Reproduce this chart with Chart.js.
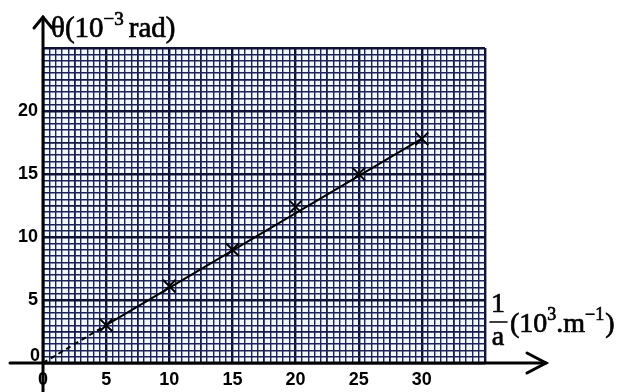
<!DOCTYPE html>
<html>
<head>
<meta charset="utf-8">
<script src="https://cdn.jsdelivr.net/npm/chart.js@4"></script>
<style>
  body { margin: 0; background: #fff; }
  #wrap { width: 618px; height: 392px; position: relative; }
</style>
</head>
<body>
<div id="wrap"><canvas id="graph"></canvas></div>
<script>
// measured points (1/a in 10^3 m^-1, theta in 10^-3 rad)
const invA = [5, 10, 15, 20, 25, 30];
const theta = [3.0, 6.1, 9.0, 12.4, 15.0, 17.8];

// straight line drawn through the points (dashed near origin)
const fitX = [0, 5, 30];
const fitY = [0, 3.0, 17.8];

const xLabels = [0, 5, 10, 15, 20, 25, 30];
const yLabels = [5, 10, 15, 20];

const GRID_MAJOR = '#0f1236';
const GRID_MID = '#161a48';
const GRID_MINOR = '#1d2358';

function gridColor(c) {
  const v = Math.round(c.tick.value * 2);
  if (v % 10 === 0) return GRID_MAJOR;
  if (v % 5 === 0) return GRID_MID;
  return GRID_MINOR;
}
function gridWidth(c) {
  const v = Math.round(c.tick.value * 2);
  if (v % 10 === 0) return 2.4;
  if (v % 5 === 0) return 1.8;
  return 1.4;
}

const SERIF = '"Liberation Serif", "Times New Roman", serif';

// text with a thin outline so it looks like the scanned print
function inkText(ctx, s, x, y) {
  ctx.fillText(s, x, y);
  ctx.strokeText(s, x, y);
}

// paper background, hand-drawn axes with arrows, axis titles
const paperPlugin = {
  id: 'paper',
  beforeDraw(chart) {
    const { ctx, chartArea: a } = chart;
    ctx.save();
    ctx.fillStyle = '#f1f9fc';
    ctx.fillRect(a.left, a.top, a.right - a.left, a.bottom - a.top);
    ctx.restore();
  },
  afterDraw(chart) {
    const { ctx, scales } = chart;
    const x0 = scales.x.getPixelForValue(0);
    const y0 = scales.y.getPixelForValue(0);
    ctx.save();
    ctx.strokeStyle = '#000';
    ctx.fillStyle = '#000';
    ctx.lineWidth = 3;
    ctx.lineCap = 'round';
    // y axis
    ctx.beginPath();
    ctx.moveTo(x0, 392);
    ctx.lineTo(x0, 17);
    ctx.stroke();
    ctx.beginPath();
    ctx.moveTo(x0 - 9, 28);
    ctx.lineTo(x0, 17);
    ctx.lineTo(x0 + 9, 28);
    ctx.stroke();
    // x axis
    ctx.beginPath();
    ctx.moveTo(10, y0);
    ctx.lineTo(546, y0);
    ctx.stroke();
    ctx.beginPath();
    ctx.moveTo(527, y0 - 10);
    ctx.lineTo(546, y0);
    ctx.lineTo(527, y0 + 10);
    ctx.stroke();

    // y "0" label sits just above the x axis
    ctx.font = 'bold 18px "Liberation Sans", Arial, sans-serif';
    ctx.textAlign = 'right';
    ctx.textBaseline = 'alphabetic';
    ctx.fillText('0', x0 - 3, y0 - 2);

    ctx.lineWidth = 0.7;
    // y title: θ(10^-3 rad)
    ctx.textAlign = 'left';
    let px = 51;
    ctx.font = '29px ' + SERIF;
    inkText(ctx, 'θ(10', px, 37);
    px += ctx.measureText('θ(10').width;
    ctx.font = '19px ' + SERIF;
    inkText(ctx, '−3', px, 25);
    px += ctx.measureText('−3').width + 5;
    ctx.font = '29px ' + SERIF;
    inkText(ctx, 'rad)', px, 37);

    // x title: 1/a (10^3.m^-1)
    ctx.font = '28px ' + SERIF;
    ctx.textAlign = 'center';
    inkText(ctx, '1', 498, 312);
    inkText(ctx, 'a', 498, 345);
    ctx.lineWidth = 1.6;
    ctx.beginPath();
    ctx.moveTo(490, 322);
    ctx.lineTo(507, 322);
    ctx.stroke();
    ctx.lineWidth = 0.7;
    ctx.textAlign = 'left';
    px = 510;
    inkText(ctx, '(10', px, 332);
    px += ctx.measureText('(10').width;
    ctx.font = '18px ' + SERIF;
    inkText(ctx, '3', px, 320);
    px += ctx.measureText('3').width;
    ctx.font = '28px ' + SERIF;
    inkText(ctx, '.m', px, 332);
    px += ctx.measureText('.m').width;
    ctx.font = '18px ' + SERIF;
    inkText(ctx, '−1', px, 320);
    px += ctx.measureText('−1').width + 1;
    ctx.font = '28px ' + SERIF;
    inkText(ctx, ')', px, 332);

    ctx.restore();
  }
};

const ctx = document.getElementById('graph');
new Chart(ctx, {
  type: 'scatter',
  data: {
    datasets: [
      {
        label: 'points',
        data: invA.map((x, i) => ({ x: x, y: theta[i] })),
        pointStyle: 'crossRot',
        pointRadius: 9,
        pointBorderWidth: 2,
        borderColor: '#000',
        backgroundColor: '#000',
        showLine: false
      },
      {
        label: 'fit',
        data: fitX.map((x, i) => ({ x: x, y: fitY[i] })),
        showLine: true,
        borderColor: '#000',
        borderWidth: 2,
        pointRadius: 0,
        segment: {
          borderDash: c => c.p0DataIndex === 0 ? [5, 4] : undefined
        }
      }
    ]
  },
  options: {
    responsive: true,
    maintainAspectRatio: false,
    animation: false,
    layout: { padding: { left: 0, right: 133, top: 48, bottom: 0 } },
    plugins: {
      legend: { display: false },
      tooltip: { enabled: false }
    },
    scales: {
      x: {
        type: 'linear',
        min: 0,
        max: 35,
        afterFit: s => { s.height = 29; },
        border: { display: false },
        grid: { color: gridColor, lineWidth: gridWidth, drawTicks: false },
        ticks: {
          stepSize: 0.5,
          autoSkip: false,
          maxRotation: 0,
          padding: 6,
          color: '#000',
          font: { family: '"Liberation Sans", Arial, sans-serif', size: 18, weight: 'bold' },
          callback: v => xLabels.includes(v) ? String(v) : ''
        }
      },
      y: {
        type: 'linear',
        min: 0,
        max: 25,
        afterFit: s => { s.width = 43; },
        border: { display: false },
        grid: { color: gridColor, lineWidth: gridWidth, drawTicks: false },
        ticks: {
          stepSize: 0.5,
          autoSkip: false,
          padding: 5,
          color: '#000',
          font: { family: '"Liberation Sans", Arial, sans-serif', size: 18, weight: 'bold' },
          callback: v => yLabels.includes(v) ? String(v) : ''
        }
      }
    }
  },
  plugins: [paperPlugin]
});
</script>
</body>
</html>
